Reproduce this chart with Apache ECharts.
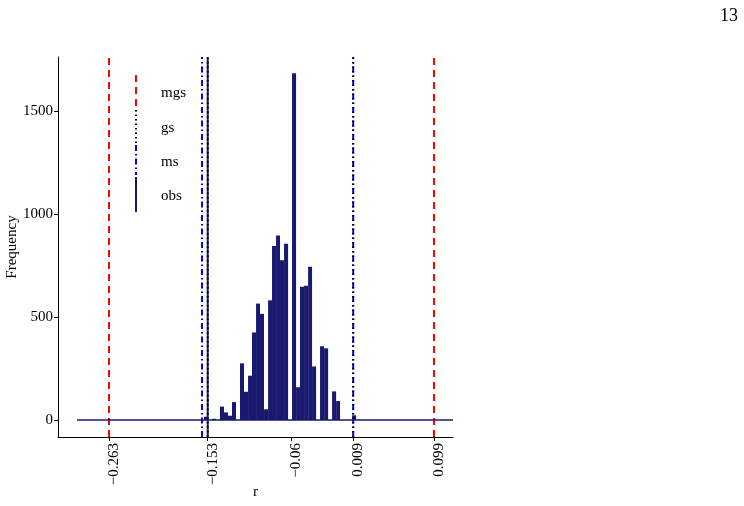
<!DOCTYPE html>
<html>
<head>
<meta charset="utf-8">
<script src="https://cdn.jsdelivr.net/npm/echarts@6/dist/echarts.min.js"></script>
<style>
  html, body { margin: 0; padding: 0; background: #fff; }
  #main { width: 744px; height: 506px; }
</style>
</head>
<body>
<div id="main"></div>
<script>
// histogram bins (left edges) and counts
var binEdges = [-0.1572, -0.1527, -0.1483, -0.1438, -0.1394, -0.1349, -0.1304, -0.1260,
  -0.1215, -0.1171, -0.1126, -0.1081, -0.1037, -0.0992, -0.0948, -0.0903, -0.0858,
  -0.0814, -0.0769, -0.0725, -0.0680, -0.0635, -0.0591, -0.0546, -0.0502, -0.0457,
  -0.0412, -0.0368, -0.0323, -0.0279, -0.0234, -0.0189, -0.0145, -0.0100, -0.0056,
  -0.0011, 0.0034, 0.0078, 0.0123]
var binCounts = [16, 0, 6, 0, 65, 37, 21, 87, 0, 275, 137, 215, 425, 565, 515, 52, 581,
  845, 896, 775, 856, 0, 1683, 159, 647, 652, 744, 260, 0, 358, 348, 0, 139, 92, 0, 0, 0, 23]

// reference lines
var mgsLines = [-0.263, 0.099]
var gsLines = [-0.153, 0.009]
var msLines = [-0.1594, 0.009]
var obsLine = [-0.153]
var baseRange = [-0.2986, 0.1202]

var xTicks = [-0.263, -0.153, -0.06, 0.009, 0.099]
var xTickLabels = ['\u22120.263', '\u22120.153', '\u22120.06', '0.009', '0.099']
var yTicks = [0, 500, 1000, 1500]

var FONT = "'Liberation Serif', 'DejaVu Serif', serif"
var NAVY = '#191970'
var Y_MIN = -82.5, Y_MAX = 1762

var histData = []
for (var i = 0; i < binCounts.length; i++) {
  if (binCounts[i] > 0) histData.push([binEdges[i], binEdges[i + 1], binCounts[i]])
}

// full-height vertical lines, one custom series per line style
function vLineSeries(vals, style) {
  return {
    type: 'custom', silent: true,
    data: vals.map(function (v) { return [v] }),
    renderItem: function (params, api) {
      var a = api.coord([api.value(0), Y_MIN])
      var b = api.coord([api.value(0), Y_MAX])
      return {
        type: 'line',
        shape: { x1: a[0], y1: a[1], x2: b[0], y2: b[1] },
        style: style
      }
    }
  }
}

var chart = echarts.init(document.getElementById('main'))
chart.setOption({
  animation: false,
  grid: { left: 58, right: 291, top: 57, bottom: 69, containLabel: false, outerBoundsMode: 'none' },
  xAxis: {
    type: 'value', min: -0.3198, max: 0.1202,
    name: 'r', nameLocation: 'middle', nameGap: 48, nameMoveOverlap: false,
    nameTextStyle: { fontFamily: FONT, fontSize: 15, color: '#000' },
    axisLine: { show: true, onZero: false, lineStyle: { color: '#000', width: 1 } },
    axisTick: { show: true, length: 4, customValues: xTicks, lineStyle: { color: '#000' } },
    axisLabel: {
      rotate: 90, margin: 6, customValues: xTicks,
      verticalAlign: 'top', lineHeight: 10,
      fontFamily: FONT, fontSize: 15, color: '#000',
      formatter: function (v) {
        var k = xTicks.indexOf(v)
        return k >= 0 ? xTickLabels[k] : ''
      }
    },
    splitLine: { show: false }
  },
  yAxis: {
    type: 'value', min: Y_MIN, max: Y_MAX,
    name: 'Frequency', nameLocation: 'middle', nameGap: 38, nameRotate: 90, nameMoveOverlap: false,
    nameTextStyle: { fontFamily: FONT, fontSize: 15, color: '#000' },
    axisLine: { show: true, onZero: false, lineStyle: { color: '#000', width: 1 } },
    axisTick: { show: true, length: 4, customValues: yTicks, lineStyle: { color: '#000' } },
    axisLabel: {
      margin: 5, customValues: yTicks, fontFamily: FONT, fontSize: 15, color: '#000',
      formatter: function (v) { return String(v) }
    },
    splitLine: { show: false }
  },
  series: [
    {
      type: 'line', silent: true, symbol: 'none',
      data: [[baseRange[0], 0], [baseRange[1], 0]],
      lineStyle: { color: NAVY, width: 1.3 }
    },
    {
      type: 'custom', silent: true,
      data: histData,
      renderItem: function (params, api) {
        var p0 = api.coord([api.value(0), 0])
        var p1 = api.coord([api.value(1), api.value(2)])
        return {
          type: 'rect',
          shape: { x: p0[0], y: p1[1], width: p1[0] - p0[0], height: p0[1] - p1[1] },
          style: { fill: NAVY }
        }
      }
    },
    vLineSeries(mgsLines, { stroke: '#ff0000', lineWidth: 2, lineDash: [7, 5] }),
    vLineSeries(msLines, { stroke: '#0000ff', lineWidth: 2, lineDash: [6, 3, 1.5, 3] }),
    vLineSeries(obsLine, { stroke: NAVY, lineWidth: 2 }),
    vLineSeries(gsLines, { stroke: '#000', lineWidth: 2, lineDash: [1.5, 3] })
  ],
  graphic: [
    { type: 'text', right: 6, top: 7, style: { text: '13', font: '18px ' + FONT, fill: '#000' } },
    { type: 'line', shape: { x1: 136, y1: 75, x2: 136, y2: 109 }, style: { stroke: '#ff0000', lineWidth: 2, lineDash: [7, 5] } },
    { type: 'line', shape: { x1: 136, y1: 110, x2: 136, y2: 144 }, style: { stroke: '#000', lineWidth: 2, lineDash: [1.5, 3] } },
    { type: 'line', shape: { x1: 136, y1: 145, x2: 136, y2: 175 }, style: { stroke: '#0000ff', lineWidth: 2, lineDash: [6, 3, 1.5, 3] } },
    { type: 'line', shape: { x1: 136, y1: 177, x2: 136, y2: 212 }, style: { stroke: NAVY, lineWidth: 2 } },
    { type: 'text', x: 161, y: 93, style: { text: 'mgs', font: '15px ' + FONT, fill: '#000', verticalAlign: 'middle' } },
    { type: 'text', x: 161, y: 128, style: { text: 'gs', font: '15px ' + FONT, fill: '#000', verticalAlign: 'middle' } },
    { type: 'text', x: 161, y: 162, style: { text: 'ms', font: '15px ' + FONT, fill: '#000', verticalAlign: 'middle' } },
    { type: 'text', x: 161, y: 196, style: { text: 'obs', font: '15px ' + FONT, fill: '#000', verticalAlign: 'middle' } }
  ]
})
</script>
</body>
</html>
